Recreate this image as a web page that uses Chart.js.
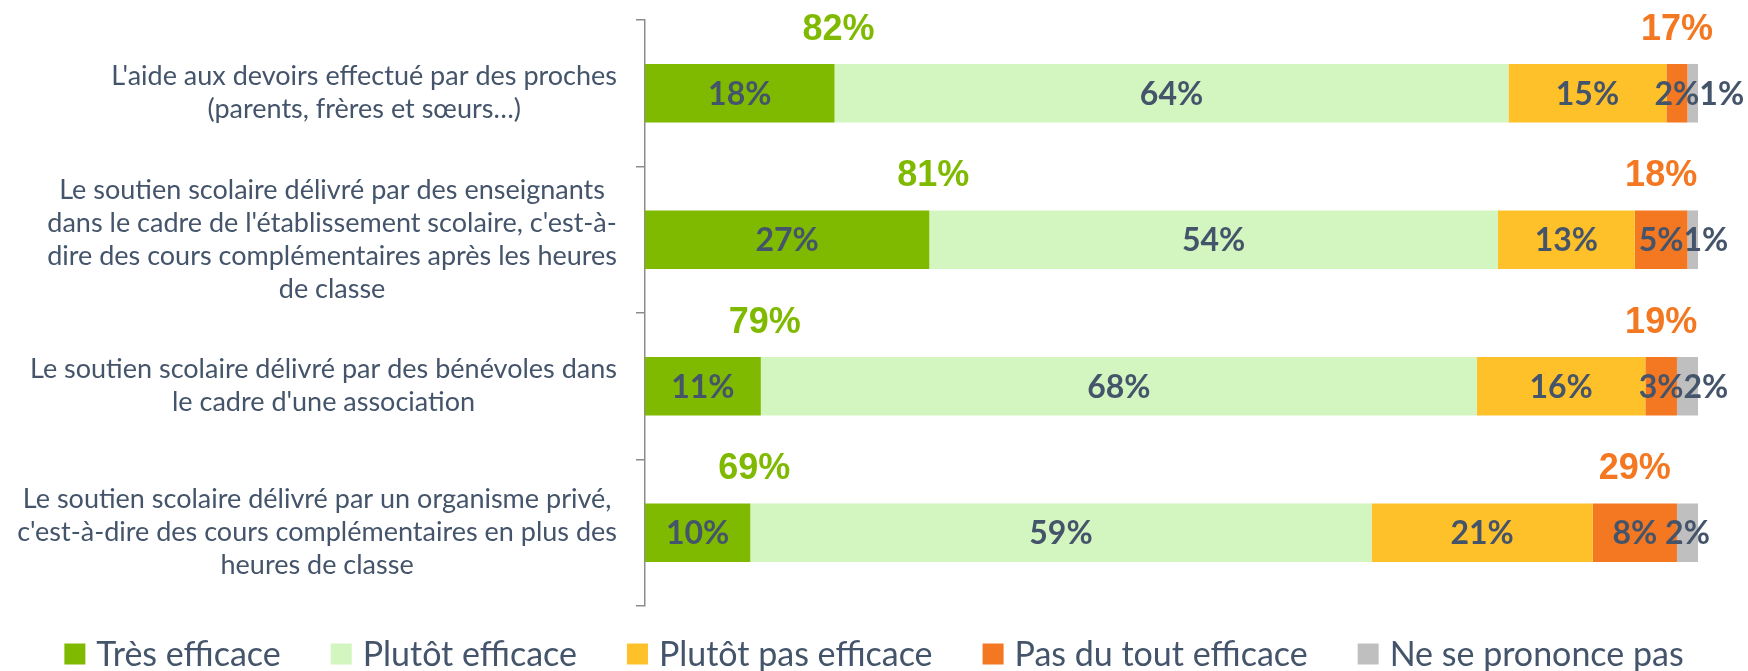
<!DOCTYPE html>
<html><head><meta charset="utf-8">
<script src="https://cdn.jsdelivr.net/npm/chart.js@4.4.1/dist/chart.umd.min.js"></script>
<style>html,body{margin:0;padding:0;background:#fff;}#wrap{width:1748px;height:671px;}</style>
</head><body><div id="wrap"><canvas id="c" width="1748" height="671"></canvas></div>
<script>
const categories = [
  ["L'aide aux devoirs effectué par des proches", "(parents, frères et sœurs…)"],
  ["Le soutien scolaire délivré par des enseignants", "dans le cadre de l'établissement scolaire, c'est-à-", "dire des cours complémentaires après les heures", "de classe"],
  ["Le soutien scolaire délivré par des bénévoles dans", "le cadre d'une association"],
  ["Le soutien scolaire délivré par un organisme privé,", "c'est-à-dire des cours complémentaires en plus des", "heures de classe"]
];
const seriesNames = ["Très efficace", "Plutôt efficace", "Plutôt pas efficace", "Pas du tout efficace", "Ne se prononce pas"];
const tresEfficace = [18, 27, 11, 10];
const plutotEfficace = [64, 54, 68, 59];
const plutotPasEfficace = [15, 13, 16, 21];
const pasDuToutEfficace = [2, 5, 3, 8];
const neSePrononcePas = [1, 1, 2, 2];
const totalEfficace = [82, 81, 79, 69];
const totalPasEfficace = [17, 18, 19, 29];

const COLORS = ['#7FBA00', '#D3F5BF', '#FFC12A', '#F47721', '#BFBFBF'];
const TEXT = '#44546A';
const FONT = 'Lato, "Open Sans", sans-serif';
const TOTAL_FONT = '"Liberation Sans", Arial, sans-serif';

const seriesData = [tresEfficace, plutotEfficace, plutotPasEfficace, pasDuToutEfficace, neSePrononcePas];

const categoryLabelsPlugin = {
  id: 'catLabels',
  afterDraw(chart) {
    const ctx = chart.ctx, y = chart.scales.y, area = chart.chartArea;
    const right = area.left - 28, lh = 33;
    ctx.save();
    ctx.font = '27px ' + FONT;
    ctx.fillStyle = TEXT;
    ctx.textAlign = 'center';
    ctx.textBaseline = 'middle';
    chart.data.labels.forEach((lines, i) => {
      const maxW = Math.max(...lines.map(l => ctx.measureText(l).width));
      const cx = right - maxW / 2;
      const cy = y.getPixelForValue(i);
      const y0 = cy - (lines.length - 1) * lh / 2;
      lines.forEach((l, k) => ctx.fillText(l, cx, y0 + k * lh));
    });
    ctx.restore();
  }
};

const valueLabelsPlugin = {
  id: 'valueLabels',
  afterDatasetsDraw(chart) {
    const ctx = chart.ctx;
    ctx.save();
    ctx.textBaseline = 'middle';
    ctx.textAlign = 'center';
    const n = chart.data.labels.length;
    for (let i = 0; i < n; i++) {
      ctx.font = 'bold 32px ' + FONT;
      ctx.fillStyle = TEXT;
      let prevRight = -Infinity;
      chart.data.datasets.forEach((ds, d) => {
        const el = chart.getDatasetMeta(d).data[i];
        const txt = ds.data[i] + '%';
        const w = ctx.measureText(txt).width;
        const center = (el.x + el.base) / 2;
        const x = Math.max(center, prevRight + w / 2);
        ctx.fillText(txt, x, el.y + 1);
        prevRight = x + w / 2;
      });
      // totals
      ctx.font = 'bold 36px ' + TOTAL_FONT;
      const g = chart.getDatasetMeta(0).data[i];
      const o = chart.getDatasetMeta(3).data[i];
      const ty = g.y - g.height / 2 - 34;
      ctx.fillStyle = COLORS[0];
      ctx.fillText(totalEfficace[i] + '%', g.x + 4, ty);
      ctx.fillStyle = COLORS[3];
      ctx.fillText(totalPasEfficace[i] + '%', (o.x + o.base) / 2, ty);
    }
    ctx.restore();
  }
};

const legendPlugin = {
  id: 'customLegend',
  afterDraw(chart) {
    const ctx = chart.ctx;
    const box = 21, gapBox = 11, gapItem = 50, cy = 654;
    ctx.save();
    ctx.font = '34px ' + FONT;
    ctx.textBaseline = 'middle';
    ctx.textAlign = 'left';
    const items = chart.data.datasets.map(ds => ({ text: ds.label, color: ds.backgroundColor, w: ctx.measureText(ds.label).width }));
    const total = items.reduce((s, it) => s + box + gapBox + it.w, 0) + gapItem * (items.length - 1);
    let x = chart.width / 2 - total / 2;
    items.forEach(it => {
      ctx.fillStyle = it.color;
      ctx.fillRect(x, cy - box / 2, box, box);
      ctx.fillStyle = TEXT;
      ctx.fillText(it.text, x + box + gapBox, cy + 1);
      x += box + gapBox + it.w + gapItem;
    });
    ctx.restore();
  }
};

function build() {
  new Chart(document.getElementById('c'), {
    type: 'bar',
    data: {
      labels: categories,
      datasets: seriesNames.map((name, k) => ({
        label: name,
        data: seriesData[k],
        backgroundColor: COLORS[k],
        borderWidth: 0,
        categoryPercentage: 1,
        barPercentage: 0.4
      }))
    },
    options: {
      indexAxis: 'y',
      responsive: false,
      animation: false,
      devicePixelRatio: 1,
      layout: { padding: { top: 20, right: 50, bottom: 65, left: 0 } },
      plugins: { legend: { display: false }, tooltip: { enabled: false } },
      scales: {
        x: { stacked: true, min: 0, max: 100, display: false },
        y: {
          stacked: true,
          ticks: { display: false },
          grid: { drawOnChartArea: false, drawTicks: true, tickLength: 9, color: '#8C8C8C', lineWidth: 1.5 },
          border: { display: true, color: '#8C8C8C', width: 1.5 },
          afterFit(s) { s.width = 645; }
        }
      }
    },
    plugins: [categoryLabelsPlugin, valueLabelsPlugin, legendPlugin]
  });
}
if (document.fonts && document.fonts.load) {
  Promise.all([document.fonts.load('27px Lato'), document.fonts.load('bold 32px Lato'), document.fonts.load('bold 36px "Liberation Sans"')]).then(build, build);
} else build();
</script>
</body></html>
